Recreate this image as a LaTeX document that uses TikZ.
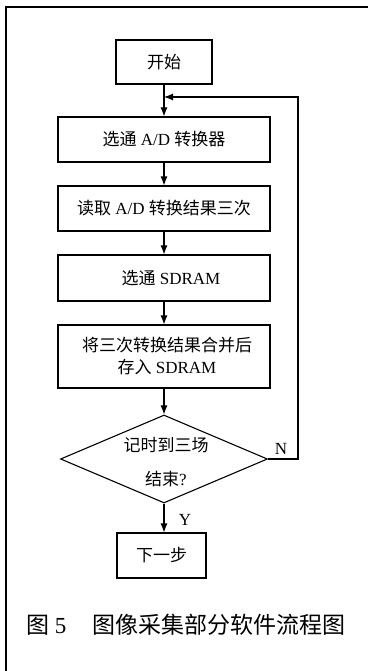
\documentclass[tikz,border=0pt]{standalone}
\usepackage{fontspec}
\setmainfont{Liberation Serif}
\newfontfamily\cjk{Noto Sans CJK SC}
\usetikzlibrary{shapes.geometric,arrows.meta}
\begin{document}
\begin{tikzpicture}[x=1pt,y=-1pt,
  box/.style={draw, line width=1.1pt, rectangle, inner sep=0pt, align=center,
    font=\fontsize{17pt}{22pt}\selectfont},
  dia/.style={draw, line width=1.1pt, diamond, inner sep=0pt,
    minimum width=207pt, minimum height=88pt},
  arr/.style={line width=1.1pt, -{Latex[length=9pt,width=7pt]}},
  lab/.style={inner sep=0pt, font=\fontsize{17pt}{20pt}\selectfont},
  frame/.style={line width=1.5pt}]
\fill[white] (0,0) rectangle (368,671);
\useasboundingbox (0,0) rectangle (368,671);
\draw[frame] (6,671) -- (6,7) -- (368,7);

\node[box, minimum width=96pt, minimum height=44pt] (start) at (164,62) {{\cjk 开始}};
\node[box, minimum width=212pt, minimum height=45pt] (b1) at (164,139.5) {{\cjk 选通} A/D {\cjk 转换器}};
\node[box, minimum width=212pt, minimum height=45pt] (b2) at (164,208.5) {{\cjk 读取} A/D {\cjk 转换结果三次}};
\node[box, minimum width=212pt, minimum height=46pt] (b3) at (164,278) {\hspace{14pt}{\cjk 选通} SDRAM};
\node[box, minimum width=212pt, minimum height=63pt] (b4) at (164,356.5) {\hspace{6pt}{\cjk 将三次转换结果合并后}\\\hspace{6pt}{\cjk 存入} SDRAM};
\node[dia] (dec) at (164,459) {};
\node[lab, align=center, font=\fontsize{17pt}{34pt}\selectfont] (dectext) at (166,462) {{\cjk 记时到三场}\\{\cjk 结束}?};
\node[box, minimum width=89pt, minimum height=45pt] (next) at (161.5,555.5) {{\cjk 下一步}};

\coordinate (join) at (164,97);
\coordinate (fbx) at (298,97);

\draw[arr] (start.south) -- (b1.north);
\draw[arr] (b1.south) -- (b2.north);
\draw[arr] (b2.south) -- (b3.north);
\draw[arr] (b3.south) -- (b4.north);
\draw[arr] (b4.south) -- (dec.north);
\draw[arr] (dec.east) -| (fbx) -- (join);
\draw[arr] (dec.south) -- (next.north -| dec.south);

\node[lab] (N) at (281,449) {N};
\node[lab] (Y) at (185,520) {Y};

\node[inner sep=0pt, anchor=west, font=\fontsize{23pt}{26pt}\selectfont] (cap) at (26,625)
  {{\cjk 图} 5\hspace{26pt}{\cjk 图像采集部分软件流程图}};
\end{tikzpicture}
\end{document}
